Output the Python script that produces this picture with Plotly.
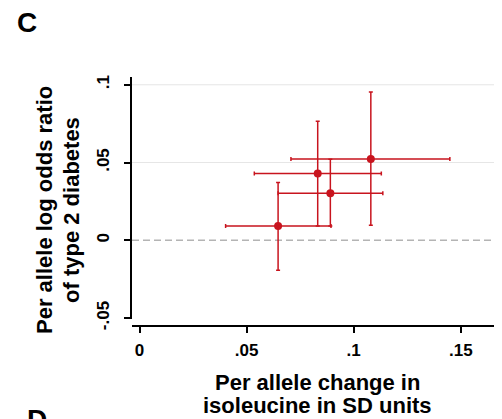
import plotly.graph_objects as go

# Data (per allele change in isoleucine vs log OR of T2D)
iso_change = [0.0647, 0.0832, 0.0891, 0.1080]
iso_lo = [0.0402, 0.0536, 0.0647, 0.0707]
iso_hi = [0.0894, 0.1129, 0.1136, 0.1449]

log_or = [0.0092, 0.0429, 0.0302, 0.0523]
log_or_lo = [-0.0193, 0.0092, 0.0092, 0.0096]
log_or_hi = [0.0371, 0.0765, 0.0521, 0.0953]

x_tickvals = [0, 0.05, 0.1, 0.15]
x_ticktext = ["0", ".05", ".1", ".15"]
y_tickvals = [-0.05, 0, 0.05, 0.1]
y_ticktext = ["-.05", "0", ".05", ".1"]
grid_vals = [0.05, 0.1]
ref_val = 0

RED = "#c8141e"
FONT = "Liberation Sans, Arial, sans-serif"

fig = go.Figure()
fig.add_trace(go.Scatter(
    x=iso_change, y=log_or, mode="markers",
    marker=dict(color=RED, size=8),
    error_x=dict(type="data", symmetric=False,
                 array=[h - v for h, v in zip(iso_hi, iso_change)],
                 arrayminus=[v - l for l, v in zip(iso_lo, iso_change)],
                 color=RED, thickness=1.5, width=2),
    error_y=dict(type="data", symmetric=False,
                 array=[h - v for h, v in zip(log_or_hi, log_or)],
                 arrayminus=[v - l for l, v in zip(log_or_lo, log_or)],
                 color=RED, thickness=1.5, width=2),
    showlegend=False,
))

shapes = []
for g in grid_vals:
    shapes.append(dict(type="line", xref="paper", x0=0, x1=1, yref="y", y0=g, y1=g,
                       line=dict(color="#e6e6e6", width=1), layer="below"))
shapes.append(dict(type="line", xref="paper", x0=0, x1=1, yref="y", y0=ref_val, y1=ref_val,
                   line=dict(color="#b4b4b4", width=1.5, dash="7px,4px"), layer="below"))

bold = dict(family=FONT, color="black", weight="bold")

fig.update_layout(
    width=502, height=419,
    margin=dict(l=132, r=8, t=77, b=93, autoexpand=False),
    paper_bgcolor="white", plot_bgcolor="white",
    font=dict(family=FONT, color="black"),
    shapes=shapes,
    xaxis=dict(range=[-0.0035, 0.1655], tickvals=x_tickvals, ticktext=x_ticktext,
               showgrid=False, zeroline=False, showline=True, linecolor="black", linewidth=1.5,
               ticks="outside", ticklen=6, tickwidth=1.5, tickcolor="black",
               tickfont=dict(size=17, **bold), anchor="free", position=0,
               automargin=False, ticklabelstandoff=3),
    yaxis=dict(range=[-0.0508, 0.105], domain=[0.027, 1], tickvals=y_tickvals, ticktext=y_ticktext,
               showgrid=False, zeroline=False, showline=True, linecolor="black", linewidth=1.5,
               ticks="outside", ticklen=6, tickwidth=1.5, tickcolor="black",
               tickangle=-90, tickfont=dict(size=17, **bold),
               automargin=False, ticklabelstandoff=8),
    annotations=[
        dict(text="C", xref="paper", yref="paper", x=-0.2887, y=1.2169, showarrow=False,
             xanchor="center", yanchor="middle", font=dict(size=28, **bold)),
        dict(text="D", xref="paper", yref="paper", x=-0.2624, y=-0.3735, showarrow=False,
             xanchor="center", yanchor="middle", font=dict(size=28, **bold)),
        dict(text="Per allele log odds ratio", xref="paper", yref="paper", x=-0.2403, y=0.466,
             showarrow=False, textangle=-90, xanchor="center", yanchor="middle",
             font=dict(size=22, **bold)),
        dict(text="of type 2 diabetes", xref="paper", yref="paper", x=-0.1657, y=0.466,
             showarrow=False, textangle=-90, xanchor="center", yanchor="middle",
             font=dict(size=22, **bold)),
        dict(text="Per allele change in", xref="paper", yref="paper", x=0.5125, y=-0.2269,
             showarrow=False, xanchor="center", yanchor="middle", font=dict(size=22, **bold)),
        dict(text="isoleucine in SD units", xref="paper", yref="paper", x=0.5125, y=-0.3193,
             showarrow=False, xanchor="center", yanchor="middle", font=dict(size=22, **bold)),
    ],
)

fig.write_html("out.html", config={"displayModeBar": False},
               post_script="document.body.style.margin='0';")
